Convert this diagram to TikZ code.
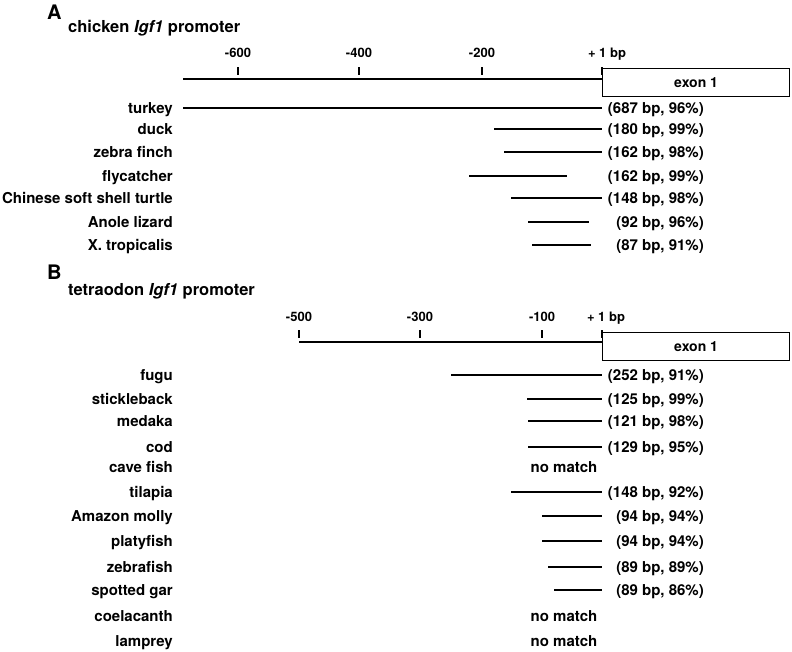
\documentclass[tikz,border=0pt]{standalone}
\usepackage{fontspec}
\setmainfont{TeX Gyre Heros}
\begin{document}
\begin{tikzpicture}[x=1pt,y=-1pt,
  lbl/.style={font=\fontsize{15}{18}\selectfont\bfseries, inner sep=0pt},
  sp/.style={lbl, anchor=base east},
  pct/.style={lbl, anchor=base east},
  nomatch/.style={lbl, anchor=base},
  ticklbl/.style={font=\fontsize{13}{15}\selectfont\bfseries, inner sep=0pt, anchor=base},
  tickmark/.style={line width=1.2pt},
  panel/.style={font=\fontsize{20}{22}\selectfont\bfseries, inner sep=0pt, anchor=base west},
  ttl/.style={font=\fontsize{16.5}{20}\selectfont\bfseries, inner sep=0pt, anchor=base west},
  axisline/.style={line width=2pt},
  hit/.style={line width=1.3pt},
  exon/.style={draw, line width=1.2pt, minimum width=187pt, minimum height=28pt, anchor=north west, inner sep=0pt, font=\fontsize{14}{16}\selectfont\bfseries}
]
\useasboundingbox (0,0) rectangle (792,651);

% ---------- Panel A ----------
\node[panel] (pA) at (47,19) {A};
\node[ttl] (tA) at (68,32) {chicken \textit{Igf1} promoter};
\node[exon] (exA) at (602,68) {exon 1};
\coordinate (axA) at (183,79);
\draw[axisline] (axA) -- (axA -| exA.west);
\foreach \i/\xx in {1/238, 2/359, 3/482, 4/602}{
  \coordinate (tkA\i a) at (\xx,67);
  \coordinate (tkA\i b) at (\xx,75);
  \draw[tickmark] (tkA\i a) -- (tkA\i b);
}
\node[ticklbl] (lA1) at (238,57) {-600};
\node[ticklbl] (lA2) at (359,57) {-400};
\node[ticklbl] (lA3) at (482,57) {-200};
\node[ticklbl] (lA4) at (607,57) {+ 1 bp};

\foreach \i/\yy/\sname/\xs/\xe/\ptxt in {
  1/108/turkey/183/602/{(687 bp, 96\%)},
  2/129/duck/494/602/{(180 bp, 99\%)},
  3/152/zebra finch/504/602/{(162 bp, 98\%)},
  4/176/flycatcher/469/567/{(162 bp, 99\%)},
  5/198/Chinese soft shell turtle/511/602/{(148 bp, 98\%)},
  6/222/Anole lizard/528/589/{(92 bp, 96\%)},
  7/245/X. tropicalis/532/591/{(87 bp, 91\%)}}{
  \node[sp] (sA\i) at (173,\yy+5) {\sname};
  \node[pct] (pctA\i) at (704,\yy+5) {\ptxt};
  \coordinate (hA\i s) at (\xs,\yy);
  \coordinate (hA\i e) at (\xe,\yy);
  \draw[hit] (hA\i s) -- (hA\i e);
}

% ---------- Panel B ----------
\node[panel] (pB) at (47,279) {B};
\node[ttl] (tB) at (68,295) {tetraodon \textit{Igf1} promoter};
\node[exon] (exB) at (602,332) {exon 1};
\coordinate (axB) at (299,342);
\draw[axisline] (axB) -- (axB -| exB.west);
\foreach \i/\xx in {1/299, 2/420, 3/542, 4/602}{
  \coordinate (tkB\i a) at (\xx,330);
  \coordinate (tkB\i b) at (\xx,338);
  \draw[tickmark] (tkB\i a) -- (tkB\i b);
}
\node[ticklbl] (lB1) at (299,321) {-500};
\node[ticklbl] (lB2) at (420,321) {-300};
\node[ticklbl] (lB3) at (542,321) {-100};
\node[ticklbl] (lB4) at (606,321) {+ 1 bp};

\foreach \i/\yy/\sname/\xs/\xe/\ptxt in {
  1/375/fugu/451/602/{(252 bp, 91\%)},
  2/399/stickleback/527/602/{(125 bp, 99\%)},
  3/421/medaka/528/602/{(121 bp, 98\%)},
  4/447/cod/528/602/{(129 bp, 95\%)},
  6/492/tilapia/511/602/{(148 bp, 92\%)},
  7/516/Amazon molly/542/602/{(94 bp, 94\%)},
  8/541/platyfish/542/602/{(94 bp, 94\%)},
  9/567/zebrafish/548/602/{(89 bp, 89\%)},
  10/590/spotted gar/554/602/{(89 bp, 86\%)}}{
  \node[sp] (sB\i) at (173,\yy+5) {\sname};
  \node[pct] (pctB\i) at (704,\yy+5) {\ptxt};
  \coordinate (hB\i s) at (\xs,\yy);
  \coordinate (hB\i e) at (\xe,\yy);
  \draw[hit] (hB\i s) -- (hB\i e);
}
\foreach \i/\yy/\sname in {5/467/cave fish, 11/616/coelacanth, 12/641/lamprey}{
  \node[sp] (sB\i) at (173,\yy+5) {\sname};
  \node[nomatch] (nmB\i) at (564,\yy+5) {no match};
}
\end{tikzpicture}
\end{document}
